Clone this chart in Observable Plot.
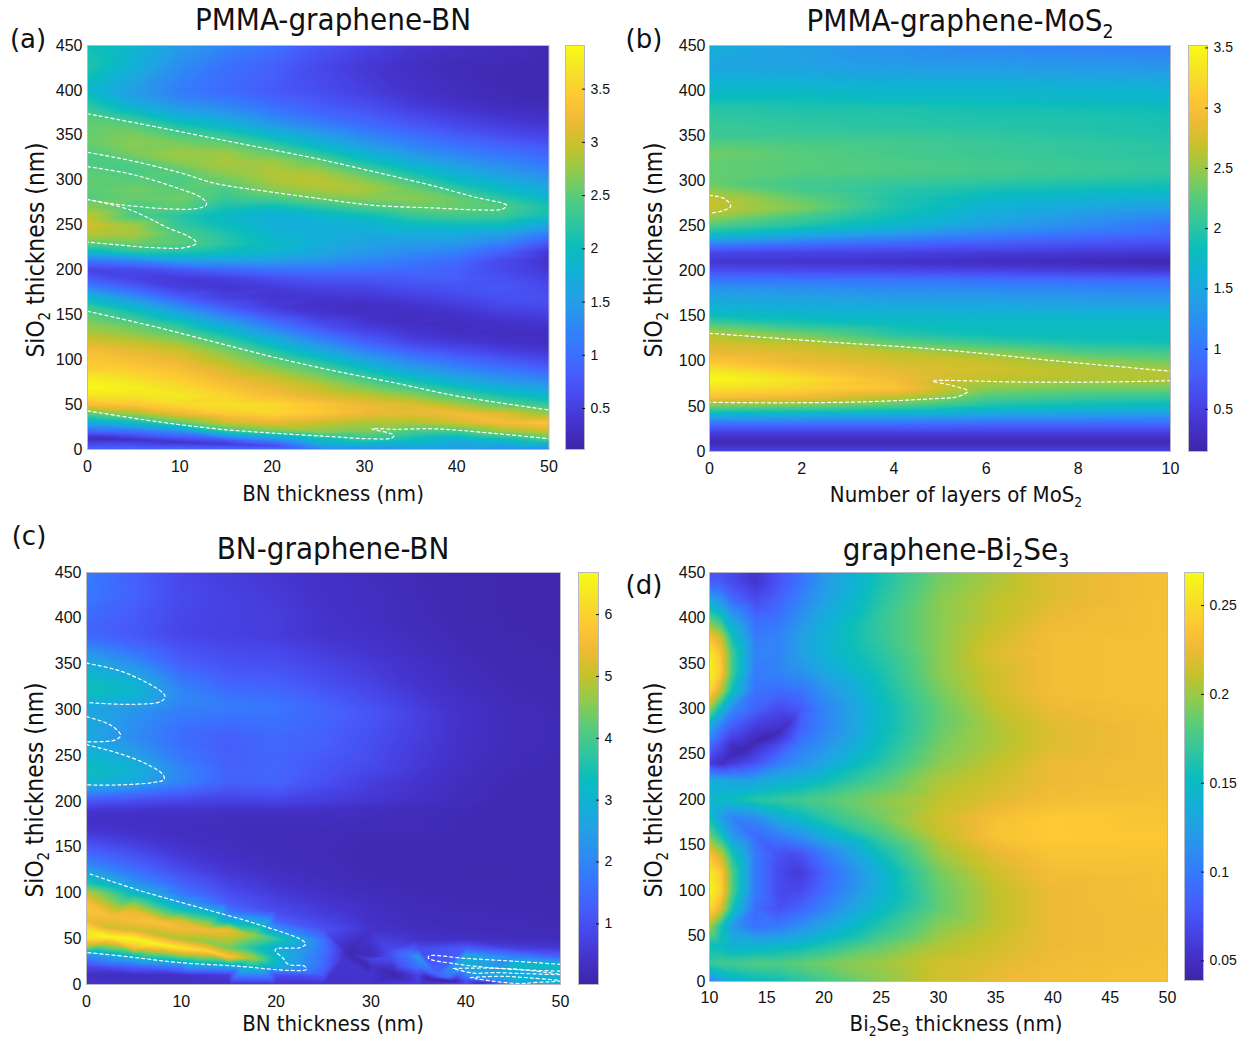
<!DOCTYPE html>
<html><head><meta charset="utf-8">
<script src="https://cdn.jsdelivr.net/npm/d3@7"></script>
<script src="https://cdn.jsdelivr.net/npm/@observablehq/plot@0.6"></script>
<style>
html,body{margin:0;padding:0;background:#fff}
#page{position:relative;width:1247px;height:1044px;overflow:hidden;font-family:"DejaVu Sans Condensed","DejaVu Sans",sans-serif;color:#111}
#page svg{position:absolute;overflow:visible;background:transparent}
.t{position:absolute;white-space:nowrap;transform:translate(-50%,-50%);line-height:1}
.t sub{font-size:.62em;line-height:0;vertical-align:-.4em}
.title{font-size:31px}
.lab{font-size:22px}
.ylab{font-size:24.3px;transform:translate(-50%,-50%) rotate(-90deg)}
.tag{font-family:"DejaVu Sans",sans-serif;font-size:26px}
</style></head><body><div id="page"></div>
<script>
const parulaStops=["#3e26a8","#4432cb","#4747eb","#465efb","#3875fe","#2d8cf3","#23a0e5","#11b1d6","#0bbdbc","#31c69f","#57cc7a","#8fcb4e","#c5c22a","#efba36","#fec933","#f5e327","#f9fb15"];
const rowsFine=[0,10,20,30,40,50,60,70,80,90,100,110,120,130,140,150,160,170,180,190,200,210,220,230,240,250,260,270,280,290,300,310,320,330,340,350,360,370,380,390,400,425,450];
const aXs=[0,5,10,15,20,25,30,35,40,45,50];
const aGrid=[
[.9,.4,.9,1.7,2.5,3.3,3.7,3.88,3.75,3.5,3.4,3.3,3.05,2.85,2.7,2.5,2.25,1.85,1.25,.8,.55,1.05,1.9,2.55,2.9,3.05,2.95,2.7,2.45,2.5,2.55,2.5,2.42,2.42,2.55,2.55,2.55,2.5,2.3,2.1,1.9,2.15,2.05],
[.95,.4,1,2,2.8,3.4,3.7,3.78,3.62,3.45,3.3,3.15,2.95,2.7,2.5,2.2,1.8,1.3,.85,.55,.6,1.2,2.2,2.6,2.85,2.8,2.4,2.4,2.55,2.6,2.5,2.4,2.45,2.65,2.7,2.65,2.5,2.2,1.85,1.6,1.5,1.75,1.85],
[1,.5,1.3,2.5,3.2,3.6,3.72,3.6,3.45,3.3,3.15,3,2.75,2.45,2.15,1.7,1.25,.8,.5,.45,.75,1.5,2.15,2.5,2.45,2.25,2.2,2.5,2.6,2.5,2.4,2.5,2.7,2.8,2.65,2.45,2.15,1.8,1.5,1.25,1.15,1.3,1.5],
[1.05,.7,2.2,3,3.45,3.65,3.55,3.35,3.2,3.05,2.85,2.65,2.35,2,1.6,1.15,.75,.5,.4,.5,.9,1.5,2,2.2,2.15,2,1.9,2.1,2.3,2.4,2.6,2.75,2.85,2.8,2.55,2.25,1.9,1.6,1.3,1.1,.95,1,1.25],
[1.1,1.2,2.55,3.15,3.55,3.6,3.3,3.15,3,2.75,2.5,2.2,1.85,1.45,1.05,.7,.45,.38,.45,.65,1,1.5,1.85,1.95,1.85,1.75,1.75,2,2.4,2.7,2.85,2.88,2.8,2.55,2.25,1.9,1.55,1.25,1.05,.9,.8,.85,1.05],
[1.2,1.9,2.7,3,3.4,3.4,3.1,2.95,2.7,2.45,2.1,1.7,1.3,.95,.65,.42,.33,.4,.55,.75,1.05,1.4,1.65,1.75,1.75,1.75,1.85,2.2,2.6,2.85,2.92,2.8,2.55,2.2,1.85,1.55,1.25,1,.85,.75,.65,.6,.75],
[1.3,2.2,2.65,2.85,3.2,3.2,2.95,2.65,2.35,2,1.6,1.2,.85,.6,.42,.32,.28,.42,.55,.75,1,1.25,1.45,1.6,1.7,1.8,2,2.4,2.7,2.85,2.7,2.45,2.1,1.8,1.5,1.25,1,.85,.7,.6,.5,.42,.55],
[1.5,2,2.4,2.85,3.15,3.1,2.75,2.35,1.95,1.55,1.2,.85,.55,.4,.3,.28,.35,.5,.65,.8,.95,1.1,1.3,1.5,1.7,1.95,2.25,2.55,2.7,2.6,2.35,2.05,1.75,1.45,1.2,1,.8,.65,.5,.42,.35,.3,.4],
[1.5,1.7,2.35,3.05,3.25,2.85,2.4,2,1.6,1.25,.95,.65,.42,.3,.27,.33,.45,.6,.72,.82,.85,.95,1.2,1.45,1.7,2,2.35,2.55,2.55,2.25,1.95,1.7,1.45,1.2,1,.8,.62,.5,.38,.3,.27,.22,.3],
[1.3,1.9,2.75,3.3,3.1,2.5,2.1,1.7,1.35,1.05,.75,.5,.33,.28,.32,.45,.6,.7,.75,.7,.6,.6,.85,1.2,1.55,2,2.3,2.45,2.2,1.95,1.7,1.45,1.25,1.05,.85,.65,.5,.38,.28,.22,.2,.2,.25],
[1.2,2.3,3,3.4,2.75,2.25,1.85,1.5,1.15,.85,.6,.4,.28,.28,.38,.5,.62,.68,.62,.52,.42,.35,.4,.75,1.15,1.6,2.05,2.1,1.9,1.65,1.45,1.25,1.05,.9,.72,.55,.42,.32,.25,.2,.18,.18,.2]];
const aExtra=[[0,13,.25],[5,10.5,.3],[10,8,.35],[15,6,.45],[20,4,.6]];
const bXs=[0,2,4,6,8,10];
const bGrid=[
[.55,.22,.45,.9,1.6,2.35,3,3.3,3.5,3.35,3.05,2.85,2.75,2.62,2.25,1.85,1.65,1.5,1.3,1,.65,.4,.55,1.1,1.8,2.2,2.5,2.7,2.68,2.45,2.3,2.3,2.3,2.35,2.25,2.1,2.1,2.05,2,1.85,1.75,1.5,1.6],
[.55,.22,.45,.9,1.55,2.3,2.9,3.2,3.3,3.05,2.85,2.8,2.65,2.35,2,1.75,1.58,1.45,1.25,1,.62,.38,.52,.95,1.5,1.95,2.15,2.4,2.3,2.15,2.15,2.25,2.25,2.25,2.2,2.1,2.05,2,1.95,1.85,1.75,1.45,1.4],
[.55,.22,.45,.9,1.5,2.15,2.65,3.05,2.95,2.85,2.75,2.65,2.3,2,1.85,1.72,1.55,1.4,1.2,.98,.6,.35,.5,.85,1.3,1.7,1.85,1.95,1.95,2,2.1,2.2,2.2,2.15,2.15,2.1,2,1.98,1.95,1.8,1.72,1.4,1.25],
[.55,.22,.45,.85,1.4,1.9,2.2,2.45,2.65,2.75,2.7,2.45,2.1,1.85,1.8,1.7,1.55,1.38,1.18,.95,.55,.3,.45,.75,1.1,1.4,1.55,1.65,1.75,1.9,2.05,2.15,2.15,2.1,2.1,2.05,1.98,1.95,1.9,1.78,1.72,1.38,1.15],
[.55,.22,.45,.85,1.35,1.8,2.1,2.35,2.6,2.65,2.5,2.2,1.95,1.8,1.8,1.7,1.5,1.35,1.15,.92,.5,.25,.42,.68,.95,1.2,1.35,1.5,1.65,1.85,2,2.1,2.1,2.05,2.05,2,1.95,1.95,1.88,1.75,1.7,1.35,1.1],
[.55,.22,.45,.85,1.3,1.75,2.05,2.35,2.62,2.6,2.35,2.15,1.9,1.8,1.8,1.7,1.5,1.3,1.1,.9,.45,.2,.4,.62,.85,.95,1.15,1.4,1.6,1.8,1.95,2.05,2.05,2,2,1.95,1.92,1.9,1.85,1.72,1.68,1.32,1.05]];
const cXs=[0,5,10,15,20,25,30,35,40,45,50];
const cGrid=[
[.5,.3,.9,1.9,4.5,6.2,6.3,5.4,5.7,5.6,5,3.7,2.9,2.1,1.6,1.2,.8,.5,.35,.5,1.1,2.1,3,3.3,3.3,3.1,2.9,2.75,2.75,2.85,2.65,3,3.4,3.35,3.1,2.85,2.4,1.9,1.5,1.4,1.5,1.75,1.85],
[.4,.3,1.4,3,5.6,6.6,5.1,5.6,5.4,4.4,3.2,2.3,1.8,1.4,1.1,.8,.55,.4,.33,.45,.95,1.7,2.7,2.95,2.9,2.55,2.3,2.1,2.15,2.2,2.3,2.8,3.1,3,2.6,2.2,1.8,1.45,1.2,1.15,1.2,1.35,1.3],
[.35,.35,2,4.3,6.4,4.8,5.5,5.2,3.6,2.4,1.7,1.35,1.05,.8,.6,.45,.35,.3,.3,.4,.8,1.35,1.9,2,1.9,1.7,1.6,1.55,1.6,1.75,1.85,2,2,1.8,1.55,1.3,1.15,1,.85,.8,.85,.9,.85],
[.35,.6,2.7,5.8,4.4,5,5.4,2.9,1.7,1.2,.95,.75,.58,.45,.35,.3,.28,.25,.3,.4,.7,1,1.3,1.35,1.3,1.3,1.25,1.3,1.45,1.6,1.8,1.75,1.55,1.35,1.2,1.05,.95,.85,.75,.72,.72,.72,.65],
[.4,.9,3,3.2,2.9,3.8,2.3,1.3,.95,.75,.6,.45,.38,.3,.25,.22,.22,.25,.3,.4,.75,1.1,1.35,1.4,1.4,1.4,1.45,1.45,1.55,1.6,1.7,1.6,1.45,1.3,1.15,1,.9,.8,.65,.65,.65,.6,.5],
[.4,1.1,1.5,1.5,1.7,1.6,1.05,.8,.6,.5,.38,.3,.25,.22,.2,.2,.2,.25,.3,.35,.65,.8,1,1.1,1.15,1.2,1.3,1.3,1.35,1.4,1.4,1.3,1.15,1,.9,.8,.7,.6,.5,.45,.45,.4,.38],
[.45,.5,.4,.25,.35,.5,.45,.38,.35,.3,.25,.2,.17,.15,.15,.15,.18,.2,.25,.28,.5,.6,.65,.8,.9,.95,.95,1,1.05,1.1,1.1,.95,.85,.75,.65,.6,.5,.45,.4,.35,.32,.32,.28],
[.7,.75,1.7,2.4,.9,.4,.3,.25,.22,.2,.18,.15,.14,.13,.13,.15,.18,.2,.2,.22,.36,.42,.45,.52,.58,.6,.62,.68,.68,.72,.68,.6,.52,.45,.4,.38,.33,.3,.27,.24,.22,.2,.18],
[1,1.9,2.75,2.95,1.2,.35,.25,.22,.2,.17,.15,.14,.13,.13,.13,.14,.15,.17,.17,.18,.22,.24,.26,.3,.32,.34,.36,.36,.36,.38,.36,.34,.3,.26,.24,.22,.19,.17,.16,.14,.13,.12,.12],
[2.4,2.75,3.3,2,.7,.28,.22,.2,.17,.15,.14,.13,.13,.13,.13,.14,.15,.15,.15,.14,.14,.15,.17,.18,.2,.2,.22,.22,.22,.22,.22,.2,.18,.17,.15,.14,.13,.12,.11,.1,.1,.1,.1],
[2.9,3,3.4,1.4,.55,.25,.2,.17,.15,.14,.13,.13,.14,.15,.15,.16,.17,.17,.15,.13,.12,.13,.14,.15,.16,.17,.18,.18,.18,.18,.17,.16,.15,.14,.13,.12,.11,.1,.1,.1,.1,.1,.1]];
const cExtra=[
[2.5,52,6.6],[7.5,44,6.6],[12.5,37,6.1],[17.5,29,4.8],
[2.5,75,5.6],[7.5,68,5.7],[12.5,60,5.5],[17.5,54,4.7],
[2.5,62,5.1],[7.5,55,4.9],[12.5,47,4.6],[17.5,40,3.6],
[27.6,35,.15],[29.7,20,.12],[32.6,11,.05],[36,7,.06],[38.8,3.7,.05],[42,1,.1],
[27,28,.5],[30,28,.8],[32,30,1],[32,38,.9],[34,33,1.7],[33,20,1],[35,14,1.1],[37,11,1.4],[30,10,.3],
[45,14,2.7],[50,13,2.75],[45,6,3.1],[50,6,3],[42,8,2.6],[38,8,1.6],[40,5,1]];
const dRows=[0,20,40,60,80,100,120,140,160,180,200,220,240,260,280,300,320,340,360,380,400,420,440,450];
const dXs=[10,11,12,14,16,18,20,25,30,35,40,50];
const dGrid=[
[.1,.17,.155,.2,.25,.265,.26,.235,.19,.155,.145,.14,.06,.09,.13,.2,.25,.265,.26,.23,.18,.13,.08,.075],
[.125,.175,.15,.16,.22,.245,.24,.21,.16,.125,.15,.135,.05,.07,.1,.15,.21,.24,.235,.21,.16,.115,.08,.075],
[.14,.175,.14,.12,.16,.18,.18,.16,.12,.105,.155,.13,.06,.05,.08,.11,.155,.175,.175,.155,.125,.09,.07,.07],
[.15,.18,.14,.095,.09,.1,.1,.1,.09,.11,.165,.13,.075,.05,.06,.085,.095,.1,.105,.1,.09,.07,.055,.055],
[.155,.18,.145,.1,.075,.07,.07,.075,.1,.135,.17,.14,.1,.07,.055,.07,.09,.105,.105,.105,.095,.085,.075,.075],
[.165,.185,.15,.115,.085,.07,.06,.075,.115,.15,.175,.145,.115,.1,.085,.08,.095,.115,.125,.125,.115,.105,.095,.095],
[.175,.19,.16,.13,.105,.09,.085,.1,.135,.165,.18,.155,.13,.115,.105,.105,.115,.13,.14,.14,.135,.125,.12,.12],
[.195,.2,.185,.165,.15,.14,.14,.155,.175,.19,.195,.18,.165,.155,.15,.15,.155,.16,.165,.17,.17,.165,.16,.16],
[.215,.215,.205,.195,.185,.185,.19,.2,.21,.215,.21,.205,.195,.19,.185,.185,.19,.195,.195,.195,.195,.195,.19,.19],
[.225,.22,.215,.21,.21,.21,.215,.222,.235,.232,.22,.215,.21,.205,.205,.21,.215,.215,.22,.215,.21,.21,.205,.205],
[.23,.228,.225,.225,.225,.225,.23,.235,.24,.24,.23,.225,.225,.22,.22,.225,.23,.23,.23,.23,.225,.22,.22,.22],
[.232,.232,.23,.23,.23,.232,.232,.235,.238,.235,.232,.23,.23,.23,.23,.232,.232,.232,.232,.232,.232,.232,.232,.232]];
const dExtra=[[13,255,.042],[12,250,.045],[14,262,.042],[15,268,.042],[16,275,.045],[17,285,.055],[17.5,120,.06],[17,100,.068],[17,140,.07]];
const aContours=[
[[0,374],[7.6,359],[12,350],[18.4,337],[24.8,324],[31.2,309],[37.7,293],[42,281],[45.4,272],[45,268],[42,267],[37.7,269],[31,272],[24.8,280],[18.4,289],[14,296],[9.8,309],[4.6,322],[0,331]],
[[0,315],[4.6,307],[9.8,291],[12.4,280],[12.9,273],[11.9,268.5],[8.9,268],[4.6,271.5],[2.5,274],[0,278.5]],
[[0,278.5],[4.6,267],[8.9,246],[11,237],[11.8,230],[10.6,225],[6.8,225],[3.3,228],[0,231]],
[[0,154],[7.6,136],[14,119],[20.5,102],[27,87],[33.4,74],[39.8,60],[50,44]],
[[0,43],[7.6,31],[14,23],[20.5,18],[27,14],[30.4,12],[33,13],[33.2,16],[30.8,23],[33.4,22.5],[37.7,23],[44,18],[50,12]]];
const bContours=[
[[0,131],[2.4,122],[5,113],[7.6,100],[10,89]],
[[10,78.5],[8.5,77],[6.75,77],[4.84,78],[5.27,73],[5.6,67],[5.4,61],[4.84,58.5],[3.3,55],[1.5,54],[0,54.5]],
[[0,284],[.33,280],[.46,272],[.3,267],[0,264]]];
const cContours=[
[[0,351],[3.4,343],[6.3,330],[8,319],[8.3,314],[7.8,309],[4.7,306],[0,308]],
[[0,292.5],[2.6,283],[3.6,272],[3,267],[0,265]],
[[0,262],[3.4,252.5],[6.3,241],[8,230],[8.2,224],[7,220.6],[3.4,218],[0,218]],
[[.4,120.6],[5.5,103],[11.75,84.5],[18,66],[22.8,48],[23.1,44],[22.6,40.4],[20,39],[19.9,37],[20.7,29],[21.3,22],[23,20],[23.2,16.5],[21.3,15.4],[16,20],[9.7,24],[4.7,30],[0,35]],
[[50,22],[45,25.5],[40,28.5],[36.1,31],[36.1,28.4],[38.7,22.9],[41.9,19],[45,16.5],[50,14.5]],
[[38.7,17.5],[42,18],[45,17],[47,15],[50,11],[46,12],[43,13],[40.8,12.4],[38.7,17.5]],
[[40.5,7.6],[43.7,9],[47,7],[50,4],[47,2],[45.8,1],[43,3.5],[41,6.5]]];
const tagLabels=["(a)","(b)","(c)","(d)"];
const aBarTicks=[.5,1,1.5,2,2.5,3,3.5],bBarTicks=[.5,1,1.5,2,2.5,3,3.5],cBarTicks=[1,2,3,4,5,6],dBarTicks=[.05,.1,.15,.2,.25];
const yTicks=[0,50,100,150,200,250,300,350,400,450];

const parula=d3.piecewise(d3.interpolateRgb,parulaStops);
const page=document.getElementById("page");
const font='"Liberation Sans",Arial,sans-serif';
function flat(xs,rows,grid,extra=[]){const out=[];xs.forEach((x,i)=>rows.forEach((y,j)=>{if(grid[i][j]!=null)out.push({x,y,v:grid[i][j]})}));extra.forEach(([x,y,v])=>out.push({x,y,v}));return out}
function place(el,l,t){el.style.left=l+"px";el.style.top=t+"px";page.appendChild(el)}
function panel(o){
  const m={l:50,r:14,t:8,b:26};
  const col={type:"linear",domain:o.domain,interpolate:parula,clamp:true};
  const p=Plot.plot({width:o.x1-o.x0+m.l+m.r,height:o.y1-o.y0+m.t+m.b,marginLeft:m.l,marginRight:m.r,marginTop:m.t,marginBottom:m.b,
    style:{fontFamily:font,fontSize:"16px",color:"#111",background:"transparent"},
    x:{domain:o.xd,label:null},y:{domain:[0,450],label:null},color:col,
    marks:[
      Plot.raster(flat(o.xs,o.rows,o.grid,o.extra),{x:"x",y:"y",fill:"v",interpolate:"barycentric"}),
      ...(o.contours||[]).map(c=>Plot.line(c,{x:d=>d[0],y:d=>d[1],stroke:"#fff",strokeWidth:1.2,strokeDasharray:"3,3",curve:"catmull-rom"})),
      Plot.frame({stroke:"#b9b9c4"}),
      Plot.axisX({ticks:o.xt,tickSize:0,tickPadding:o.xpad,label:null,fontSize:16}),
      Plot.axisY({ticks:yTicks,tickSize:0,tickPadding:o.ypad,label:null,fontSize:16})
    ]});
  place(p,o.x0-m.l,o.y0-m.t);
  const b=o.bar,bm={l:2,r:40,t:2,b:2};
  const cb=Plot.plot({width:b.x1-b.x0+bm.l+bm.r,height:o.y1b-o.y0+bm.t+bm.b,marginLeft:bm.l,marginRight:bm.r,marginTop:bm.t,marginBottom:bm.b,
    style:{fontFamily:font,fontSize:"14px",color:"#111",background:"transparent"},
    x:{domain:[0,1],axis:null},y:{domain:o.domain,label:null},color:col,
    marks:[
      Plot.raster({x1:0,x2:1,y1:o.domain[0],y2:o.domain[1],fill:(x,y)=>y}),
      Plot.frame({stroke:"#b9b9c4"}),
      Plot.axisY({anchor:"right",ticks:b.ticks,tickFormat:d=>String(d),tickSize:-3,tickPadding:9,label:null,fontSize:14})
    ]});
  place(cb,b.x0-bm.l,o.y0-bm.t);
}
function text(cls,html,x,y){const d=document.createElement("div");d.className="t "+cls;d.innerHTML=html;d.style.left=x+"px";d.style.top=y+"px";page.appendChild(d)}

panel({x0:87,x1:548.5,y0:45,y1:449,y1b:449,xd:[0,50],xs:aXs,rows:rowsFine,grid:aGrid,extra:aExtra,domain:[.115,3.91],contours:aContours,xt:[0,10,20,30,40,50],xpad:11,ypad:5,bar:{x0:565,x1:584,ticks:aBarTicks}});
panel({x0:709,x1:1170,y0:45,y1:451,y1b:451,xd:[0,10],xs:bXs,rows:rowsFine,grid:bGrid,domain:[.15,3.52],contours:bContours,xt:[0,2,4,6,8,10],xpad:11,ypad:4,bar:{x0:1188,x1:1207,ticks:bBarTicks}});
panel({x0:86,x1:560,y0:572,y1:984,y1b:984,xd:[0,50],xs:cXs,rows:rowsFine,grid:cGrid,extra:cExtra,domain:[.02,6.68],contours:cContours,xt:[0,10,20,30,40,50],xpad:11,ypad:5,bar:{x0:578,x1:598,ticks:cBarTicks}});
panel({x0:709,x1:1167,y0:572,y1:981,y1b:980,xd:[10,50],xs:dXs,rows:dRows,grid:dGrid,extra:dExtra,domain:[.039,.2686],xt:[10,15,20,25,30,35,40,45,50],xpad:10,ypad:4,bar:{x0:1184,x1:1203,ticks:dBarTicks}});

text("title","PMMA-graphene-BN",333,19);
text("title","PMMA-graphene-MoS<sub>2</sub>",960,20);
text("title","BN-graphene-BN",333,548);
text("title","graphene-Bi<sub>2</sub>Se<sub>3</sub>",956,549);
text("lab","BN thickness (nm)",333,494);
text("lab","Number of layers of MoS<sub>2</sub>",956,495);
text("lab","BN thickness (nm)",333,1024);
text("lab","Bi<sub>2</sub>Se<sub>3</sub> thickness (nm)",956,1024);
text("ylab","SiO<sub>2</sub> thickness (nm)",36,250);
text("ylab","SiO<sub>2</sub> thickness (nm)",654,250);
text("ylab","SiO<sub>2</sub> thickness (nm)",35,790);
text("ylab","SiO<sub>2</sub> thickness (nm)",654,790);
text("tag",tagLabels[0],28,39);
text("tag",tagLabels[1],644,39);
text("tag",tagLabels[2],29,536);
text("tag",tagLabels[3],644,585);
</script></body></html>
